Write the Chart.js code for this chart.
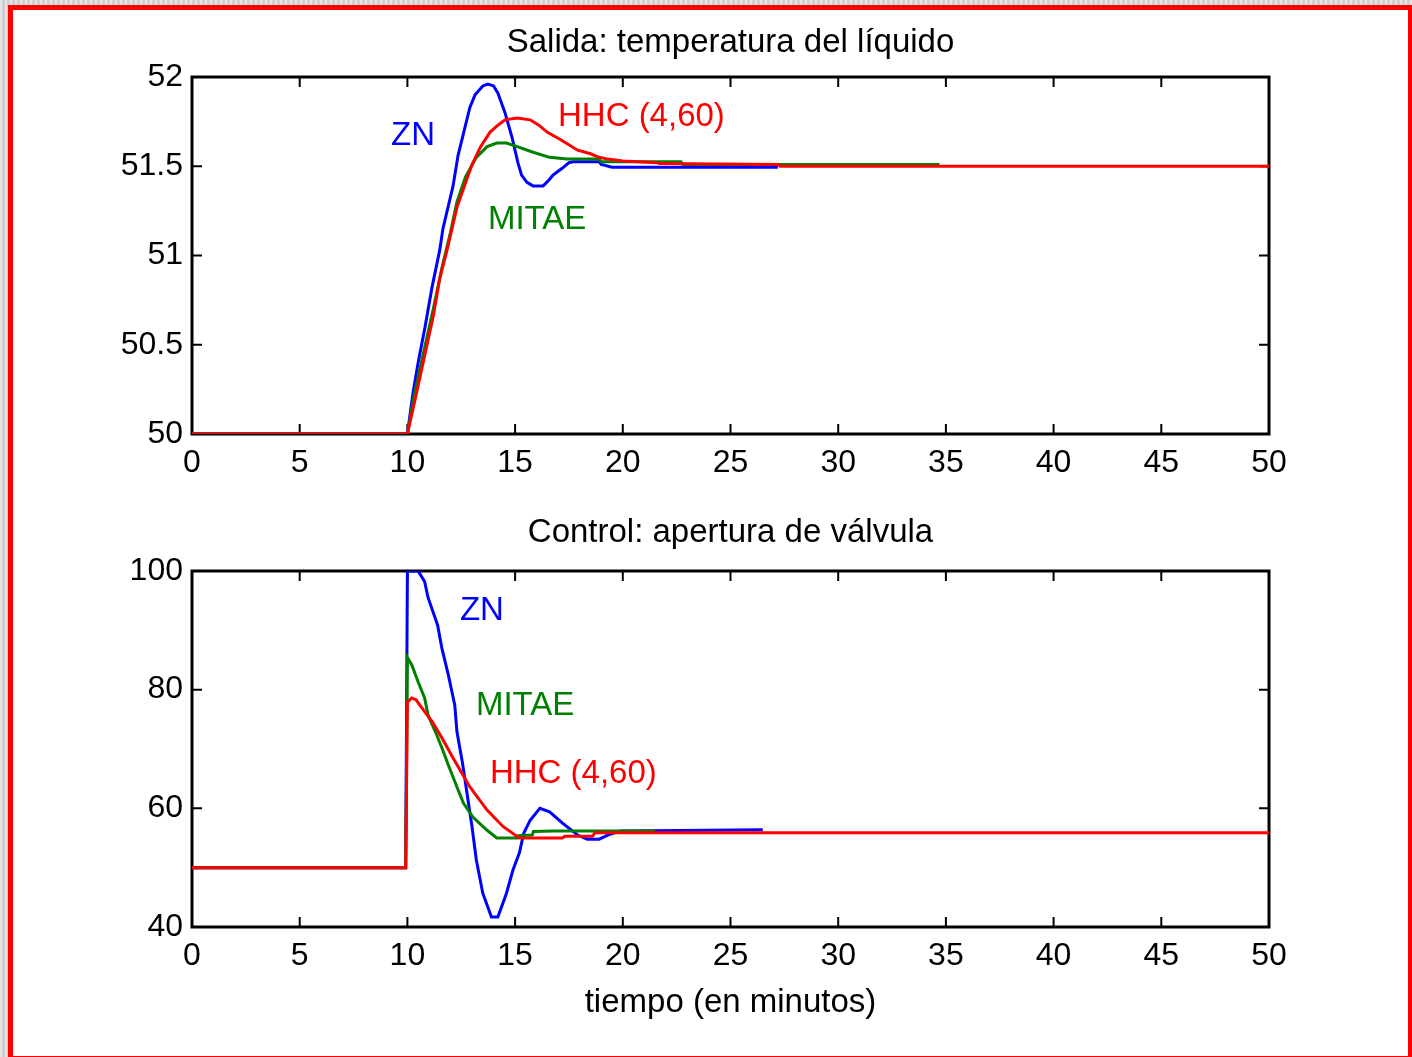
<!DOCTYPE html>
<html>
<head>
<meta charset="utf-8">
<script src="https://cdn.jsdelivr.net/npm/chart.js@4.4.0/dist/chart.umd.min.js"></script>
<style>
  html, body { margin: 0; padding: 0; }
  body {
    width: 1412px; height: 1057px; overflow: hidden; position: relative;
    background: #d8d8d8;
    background-image: repeating-linear-gradient(90deg, rgba(255,255,255,0.35) 0 2px, rgba(0,0,0,0.04) 2px 5px);
    font-family: "Liberation Sans", Arial, sans-serif;
  }
  #frame {
    position: absolute; left: 8px; top: 5px; width: 1395px; height: 1046px;
    background: #fff; border-style: solid; border-color: #ff0000;
    border-width: 5px 4px 3px 5px;
  }
  canvas { position: absolute; left: 0; }
  #top { top: 0; }
  #bottom { top: 490px; }
</style>
</head>
<body>
<div id="frame"></div>
<canvas id="top" width="1412" height="490"></canvas>
<canvas id="bottom" width="1412" height="567"></canvas>
<script>
// eje de tiempo (minutos)
const xTicks = [0, 5, 10, 15, 20, 25, 30, 35, 40, 45, 50];
const yTicksTemp = [50, 50.5, 51, 51.5, 52];
const yTicksCtrl = [40, 60, 80, 100];

// salida: temperatura del liquido
const tTempZN = [0, 10, 10.26, 10.5, 10.82, 11.14, 11.5, 11.65, 12.12, 12.35, 12.9, 13.14, 13.5, 13.74, 14.0, 14.2, 14.53, 14.86, 15.13, 15.3, 15.55, 15.83, 16.3, 16.55, 16.76, 17.2, 17.5, 17.7, 18.9, 19.0, 19.5, 27.2];
const yTempZN = [50, 50, 50.23, 50.40, 50.60, 50.82, 51.03, 51.15, 51.39, 51.56, 51.83, 51.90, 51.95, 51.96, 51.95, 51.91, 51.80, 51.66, 51.52, 51.45, 51.41, 51.39, 51.39, 51.42, 51.45, 51.49, 51.52, 51.525, 51.525, 51.51, 51.495, 51.495];
const tTempMITAE = [0, 10, 10.3, 10.7, 11.2, 11.6, 12.0, 12.3, 12.7, 13.2, 13.7, 14.15, 14.6, 15.1, 15.8, 16.6, 17.4, 18.9, 19.0, 22.7, 22.8, 34.7];
const yTempMITAE = [50, 50, 50.21, 50.43, 50.70, 50.93, 51.13, 51.30, 51.44, 51.55, 51.61, 51.63, 51.63, 51.61, 51.58, 51.55, 51.54, 51.54, 51.525, 51.525, 51.51, 51.51];
const tTempHHC = [0, 10, 10.35, 10.73, 11.2, 11.5, 11.84, 12.3, 13.0, 13.4, 13.83, 14.2, 14.53, 15.1, 15.7, 16.1, 16.5, 17.1, 17.9, 18.5, 18.9, 19.3, 20.0, 21.6, 21.7, 27.2, 27.3, 50];
const yTempHHC = [50, 50, 50.19, 50.40, 50.66, 50.87, 51.03, 51.27, 51.51, 51.61, 51.69, 51.73, 51.76, 51.77, 51.76, 51.73, 51.69, 51.65, 51.59, 51.57, 51.55, 51.54, 51.53, 51.52, 51.515, 51.51, 51.50, 51.50];

// control: apertura de valvula
const tCtrlZN = [0, 9.92, 10.0, 10.5, 10.8, 10.96, 11.4, 11.6, 11.9, 12.2, 12.3, 12.55, 13.0, 13.2, 13.5, 13.9, 14.2, 14.6, 14.9, 15.2, 15.4, 15.7, 16.15, 16.6, 17.2, 17.9, 18.35, 18.9, 19.3, 19.9, 26.5];
const yCtrlZN = [50, 50, 100, 100, 98.2, 95.5, 90.9, 87, 82.5, 77.4, 72.9, 67.8, 56.9, 51.3, 45.7, 41.7, 41.7, 45.7, 49.6, 52.5, 55.8, 58, 60, 59.4, 57.5, 55.5, 54.8, 54.8, 55.5, 56.2, 56.4];
const tCtrlMITAE = [0, 9.92, 10.0, 10.2, 10.5, 10.8, 10.96, 11.3, 11.6, 11.9, 12.3, 12.6, 13.05, 13.7, 14.15, 15.1, 15.15, 15.8, 15.85, 16.75, 21.5];
const yCtrlMITAE = [50, 50, 85.4, 84.2, 81.3, 78.6, 75.7, 72.9, 70.2, 67.3, 63.6, 60.9, 58.5, 56.3, 55, 55, 55.4, 55.5, 56.1, 56.2, 56.2];
const tCtrlHHC = [0, 9.92, 10.0, 10.2, 10.4, 10.8, 11.15, 11.6, 12.1, 12.9, 13.7, 14.45, 15.2, 17.2, 17.3, 18.6, 18.7, 50];
const yCtrlHHC = [50, 50, 77.9, 78.6, 78.3, 76.3, 74.6, 71.9, 68.6, 63.6, 59.7, 56.9, 55.0, 55.0, 55.3, 55.3, 55.9, 55.9];

const FONT = '"Liberation Sans", Arial, sans-serif';
const BLUE = '#0000ff', GREEN = '#008000', RED = '#ff0000';

function pts(ts, ys) {
    return ts.map((t, i) => ({ x: t, y: ys[i] }));
}

function serie(label, ts, ys, color, order) {
    return {
        label: label,
        data: pts(ts, ys),
        borderColor: color,
        borderWidth: 3,
        pointRadius: 0,
        tension: 0,
        fill: false,
        order: order
    };
}

// marco, marcas hacia dentro, titulo y etiquetas de las curvas
const marcoPlugin = {
    id: 'marco',
    beforeDatasetsDraw(chart, args, opts) {
        const { ctx, chartArea: a } = chart;
        const x = chart.scales.x, y = chart.scales.y;
        ctx.save();
        ctx.strokeStyle = '#000';
        ctx.lineWidth = 2;
        ctx.beginPath();
        xTicks.forEach(v => {
            const px = x.getPixelForValue(v);
            ctx.moveTo(px, a.bottom); ctx.lineTo(px, a.bottom - 10);
            ctx.moveTo(px, a.top); ctx.lineTo(px, a.top + 10);
        });
        opts.yTicks.forEach(v => {
            const py = y.getPixelForValue(v);
            ctx.moveTo(a.left, py); ctx.lineTo(a.left + 10, py);
            ctx.moveTo(a.right, py); ctx.lineTo(a.right - 10, py);
        });
        ctx.stroke();
        ctx.lineWidth = 3;
        ctx.strokeRect(a.left, a.top, a.right - a.left, a.bottom - a.top);
        ctx.restore();
    },
    afterDatasetsDraw(chart, args, opts) {
        const { ctx, chartArea: a } = chart;
        const x = chart.scales.x, y = chart.scales.y;
        ctx.save();
        ctx.font = '33px ' + FONT;
        ctx.textBaseline = 'middle';
        ctx.fillStyle = '#000';
        ctx.textAlign = 'center';
        ctx.fillText(opts.title, (a.left + a.right) / 2, opts.titleY);
        if (opts.xTitle) ctx.fillText(opts.xTitle, (a.left + a.right) / 2, opts.xTitleY);
        ctx.textAlign = 'left';
        opts.labels.forEach(l => {
            ctx.fillStyle = l.color;
            ctx.fillText(l.text, x.getPixelForValue(l.x), y.getPixelForValue(l.y));
        });
        ctx.restore();
    }
};

function makeChart(id, datasets, yMin, yMax, yStep, xHeight, padTop, marco) {
    return new Chart(document.getElementById(id), {
        type: 'line',
        data: { datasets: datasets },
        plugins: [marcoPlugin],
        options: {
            responsive: false,
            animation: false,
            layout: { padding: { top: padTop, right: 143, left: 0, bottom: 0 } },
            plugins: { legend: { display: false }, tooltip: { enabled: false }, marco: marco },
            scales: {
                x: {
                    type: 'linear', min: 0, max: 50,
                    grid: { display: false, drawTicks: false },
                    border: { display: false },
                    ticks: { stepSize: 5, color: '#000', padding: 10, maxRotation: 0, font: { size: 32, family: FONT } },
                    afterFit: s => { s.height = xHeight; }
                },
                y: {
                    min: yMin, max: yMax,
                    grid: { display: false, drawTicks: false },
                    border: { display: false },
                    ticks: {
                        stepSize: yStep, color: '#000', padding: 9, font: { size: 32, family: FONT },
                        callback: v => String(Math.round(v * 10) / 10)
                    },
                    afterFit: s => { s.width = 192; }
                }
            }
        }
    });
}

makeChart('top', [
    serie('ZN', tTempZN, yTempZN, BLUE, 2),
    serie('MITAE', tTempMITAE, yTempMITAE, GREEN, 1),
    serie('HHC (4,60)', tTempHHC, yTempHHC, RED, 0)
], 50, 52, 0.5, 56, 77, {
    title: 'Salida: temperatura del líquido', titleY: 43,
    yTicks: yTicksTemp,
    labels: [
        { text: 'ZN', x: 9.24, y: 51.67, color: BLUE },
        { text: 'HHC (4,60)', x: 16.99, y: 51.776, color: RED },
        { text: 'MITAE', x: 13.74, y: 51.2, color: GREEN }
    ]
});

makeChart('bottom', [
    serie('ZN', tCtrlZN, yCtrlZN, BLUE, 2),
    serie('MITAE', tCtrlMITAE, yCtrlMITAE, GREEN, 1),
    serie('HHC (4,60)', tCtrlHHC, yCtrlHHC, RED, 0)
], 40, 100, 20, 130, 81, {
    title: 'Control: apertura de válvula', titleY: 43,
    xTitle: 'tiempo (en minutos)', xTitleY: 513,
    yTicks: yTicksCtrl,
    labels: [
        { text: 'ZN', x: 12.44, y: 93.26, color: BLUE },
        { text: 'MITAE', x: 13.18, y: 77.25, color: GREEN },
        { text: 'HHC (4,60)', x: 13.83, y: 65.8, color: RED }
    ]
});
</script>
</body>
</html>
